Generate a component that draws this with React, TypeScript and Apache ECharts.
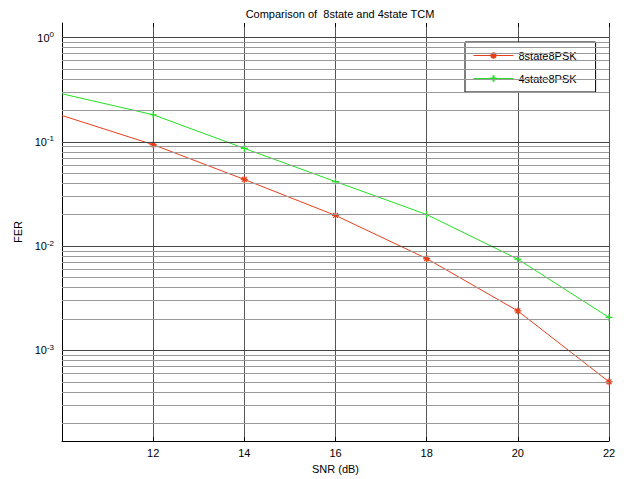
import React, { useEffect, useRef } from "react";
import * as echarts from "echarts";

const snr = [10, 12, 14, 16, 18, 20, 22];
const fer8state = [0.179, 0.094, 0.0436, 0.0197, 0.0076, 0.00239, 0.0005];
const fer4state = [0.289, 0.182, 0.0866, 0.0416, 0.0201, 0.0075, 0.00207];
const seriesNames = ["8state8PSK", "4state8PSK"];
const decades = [-4, -3, -2, -1, 0];
const minorMultipliers = [2, 3, 4, 5, 6, 7, 8, 9];
const yMin = 1.35e-4;
const yMax = 1.38;

const FONT = "Liberation Sans, Arial, Helvetica, sans-serif";
const RED = "#e5401c";
const GREEN = "#22e022";

const asterisk = "path://M0,-10L0,10M-10,0L10,0M-7,-7L7,7M-7,7L7,-7";
const plus = "path://M0,-10L0,10M-10,0L10,0";

export default function App() {
  const ref = useRef<HTMLDivElement>(null);
  useEffect(() => {
    if (!ref.current) return;
    const chart = echarts.init(ref.current, undefined, { renderer: "svg" });

    const majorVals: number[] = [];
    const minorVals: number[] = [];
    decades.forEach((d) => {
      const p = Math.pow(10, d);
      if (p >= yMin && p <= yMax) majorVals.push(p);
      minorMultipliers.forEach((m) => {
        const v = m * p;
        if (v > yMin && v < yMax) minorVals.push(v);
      });
    });

    const mkData = (vals: number[]) =>
      vals.map((v, i) =>
        i === 0 ? { value: [snr[i], v], symbol: "none" } : { value: [snr[i], v] }
      );

    const isPow = (v: number) => {
      const l = Math.log10(v);
      return Math.abs(l - Math.round(l)) < 1e-6;
    };

    chart.setOption({
      animation: false,
      textStyle: { fontFamily: FONT },
      title: {
        text: "Comparison of  8state and 4state TCM",
        left: 335,
        top: 3,
        textAlign: "center",
        textStyle: { fontFamily: FONT, fontSize: 11, fontWeight: "normal", color: "#000" },
      },
      legend: {
        orient: "vertical",
        left: 465,
        top: 42,
        padding: [8, 19, 8, 8],
        itemGap: 12,
        itemWidth: 40,
        itemHeight: 8,
        backgroundColor: "#fff",
        borderColor: "#000",
        borderWidth: 1,
        borderRadius: 0,
        lineStyle: { width: 1 },
        textStyle: { fontFamily: FONT, fontSize: 11, color: "#000" },
        data: seriesNames,
      },
      grid: { left: 62, right: 15, top: 23, bottom: 35 },
      xAxis: [
        {
          type: "value",
          min: 10,
          max: 22,
          interval: 2,
          name: "SNR (dB)",
          nameLocation: "middle",
          nameGap: 17,
          nameTextStyle: { fontFamily: FONT, fontSize: 11, color: "#000" },
          axisLine: { show: true, lineStyle: { color: "#000", width: 1 } },
          axisTick: { show: true, inside: true, length: 4, lineStyle: { color: "#000" } },
          axisLabel: {
            fontFamily: FONT,
            fontSize: 11,
            color: "#000",
            margin: 6,
            formatter: (v: number) => (v === 10 ? "" : String(v)),
          },
          splitLine: { show: true, lineStyle: { color: "#555", width: 1 } },
        },
        {
          type: "value",
          position: "top",
          min: 10,
          max: 22,
          interval: 2,
          axisLine: { show: false },
          axisTick: { show: true, inside: true, length: 4, lineStyle: { color: "#000" } },
          axisLabel: { show: false },
          splitLine: { show: false },
        },
      ],
      yAxis: {
        type: "log",
        min: yMin,
        max: yMax,
        name: "FER",
        nameLocation: "middle",
        nameGap: 36,
        nameTextStyle: { fontFamily: FONT, fontSize: 11, color: "#000" },
        axisLine: { show: true, lineStyle: { color: "#000", width: 1 } },
        axisTick: { show: false },
        splitLine: { show: false },
        axisLabel: {
          color: "#000",
          margin: 8,
          formatter: (v: number) => {
            if (!isPow(v)) return "";
            return `{b|10}{e|${Math.round(Math.log10(v))}}`;
          },
          rich: {
            b: { fontFamily: FONT, fontSize: 11, color: "#000", lineHeight: 14 },
            e: { fontFamily: FONT, fontSize: 8, color: "#000", verticalAlign: "top", lineHeight: 8 },
          },
        },
      },
      series: [
        {
          name: "__grid",
          type: "line",
          data: [],
          silent: true,
          markLine: {
            silent: true,
            symbol: "none",
            precision: 12,
            label: { show: false },
            animation: false,
            data: [
              ...minorVals.map((v) => ({ yAxis: v, lineStyle: { color: "#999", width: 1, type: "solid" } })),
              ...majorVals.map((v) => ({ yAxis: v, lineStyle: { color: "#444", width: 1, type: "solid" } })),
            ],
          },
        },
        {
          name: seriesNames[0],
          type: "line",
          data: mkData(fer8state),
          symbol: asterisk,
          symbolSize: 7,
          lineStyle: { color: RED, width: 1 },
          itemStyle: { color: RED, borderColor: RED, borderWidth: 1.2 },
        },
        {
          name: seriesNames[1],
          type: "line",
          data: mkData(fer4state),
          symbol: plus,
          symbolSize: 7,
          lineStyle: { color: GREEN, width: 1 },
          itemStyle: { color: GREEN, borderColor: GREEN, borderWidth: 1.2 },
        },
      ],
    });
    return () => chart.dispose();
  }, []);
  return (
    <div
      ref={ref}
      style={{ position: "fixed", left: 0, top: 0, width: 624, height: 479, background: "#fff" }}
    />
  );
}
